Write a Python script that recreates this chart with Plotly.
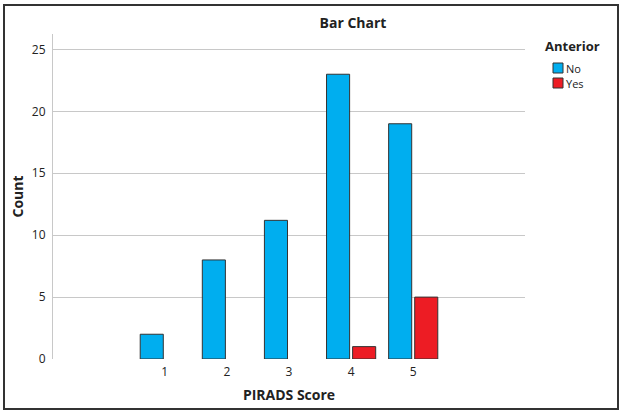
import plotly.graph_objects as go

categories = [1, 2, 3, 4, 5]
tick_labels = ["1", "2", "3", "4", "5"]
no_counts = [2, 8, 11.2, 23, 19]
yes_counts = [None, None, None, 1, 5]
series_names = ["No", "Yes"]
legend_title = "Anterior"
colors = ["#00AEEF", "#ED1C24"]

W, H = 622, 410
L, R, T, B = 53, 97, 34, 51
pw, ph = W - L - R, H - T - B

def px2x(px):
    return (px - L) / pw

def py2y(py):
    return (H - B - py) / ph

FONT = "Open Sans"
TXT = "#222222"

fig = go.Figure()
for name, vals, col in zip(series_names, [no_counts, yes_counts], colors):
    fig.add_trace(go.Bar(
        x=categories, y=vals, name=name, showlegend=False,
        marker=dict(color=col, line=dict(color="#333333", width=1)),
    ))

shapes = [dict(type="rect", xref="paper", yref="paper",
               x0=px2x(4), x1=px2x(618), y0=py2y(409), y1=py2y(5),
               line=dict(color="#333333", width=2), fillcolor="rgba(0,0,0,0)", layer="below")]
annotations = [dict(text="<b>%s</b>" % legend_title, xref="paper", yref="paper",
                    x=px2x(543), y=py2y(46), xanchor="left", yanchor="middle",
                    showarrow=False, font=dict(size=13, color=TXT))]
for i, (name, col) in enumerate(zip(series_names, colors)):
    cy = 68 + 15 * i
    shapes.append(dict(type="rect", xref="paper", yref="paper",
                       x0=px2x(553), x1=px2x(563), y0=py2y(cy + 5), y1=py2y(cy - 5),
                       line=dict(color="#333333", width=1), fillcolor=col))
    annotations.append(dict(text=name, xref="paper", yref="paper",
                            x=px2x(564), y=py2y(cy), xanchor="left", yanchor="middle",
                            showarrow=False, font=dict(size=11, color=TXT)))

fig.update_layout(
    width=W, height=H,
    margin=dict(l=L, r=R, t=T, b=B, pad=0),
    paper_bgcolor="white", plot_bgcolor="white",
    barmode="group", bargap=0.16, bargroupgap=0.115,
    font=dict(family=FONT, size=12, color=TXT),
    title=dict(text="<b>Bar Chart</b>", x=353 / W, xanchor="center",
               y=1 - 23 / H, yanchor="middle", font=dict(size=14, color=TXT)),
    xaxis=dict(range=[-0.8, 6.8], tickvals=categories, ticktext=tick_labels,
               showgrid=False, zeroline=False, showline=False, ticks="",
               tickfont=dict(size=12, color=TXT), ticklabelstandoff=4, automargin=False,
               title=dict(text="<b>PIRADS Score</b>", font=dict(size=14, color=TXT), standoff=11)),
    yaxis=dict(range=[0, 26.25], tickvals=[0, 5, 10, 15, 20, 25],
               showgrid=True, gridcolor="#C8C8C8", gridwidth=1, zeroline=False,
               showline=True, linecolor="#C8C8C8", linewidth=1, ticks="",
               tickfont=dict(size=12, color=TXT), ticklabelstandoff=4, automargin=False,
               title=dict(text="<b>Count</b>", font=dict(size=14, color=TXT), standoff=4)),
    shapes=shapes,
    annotations=annotations,
)

fig.write_html("out.html", config={"displayModeBar": False},
               post_script="document.body.style.margin='0';document.body.style.overflow='hidden';")
